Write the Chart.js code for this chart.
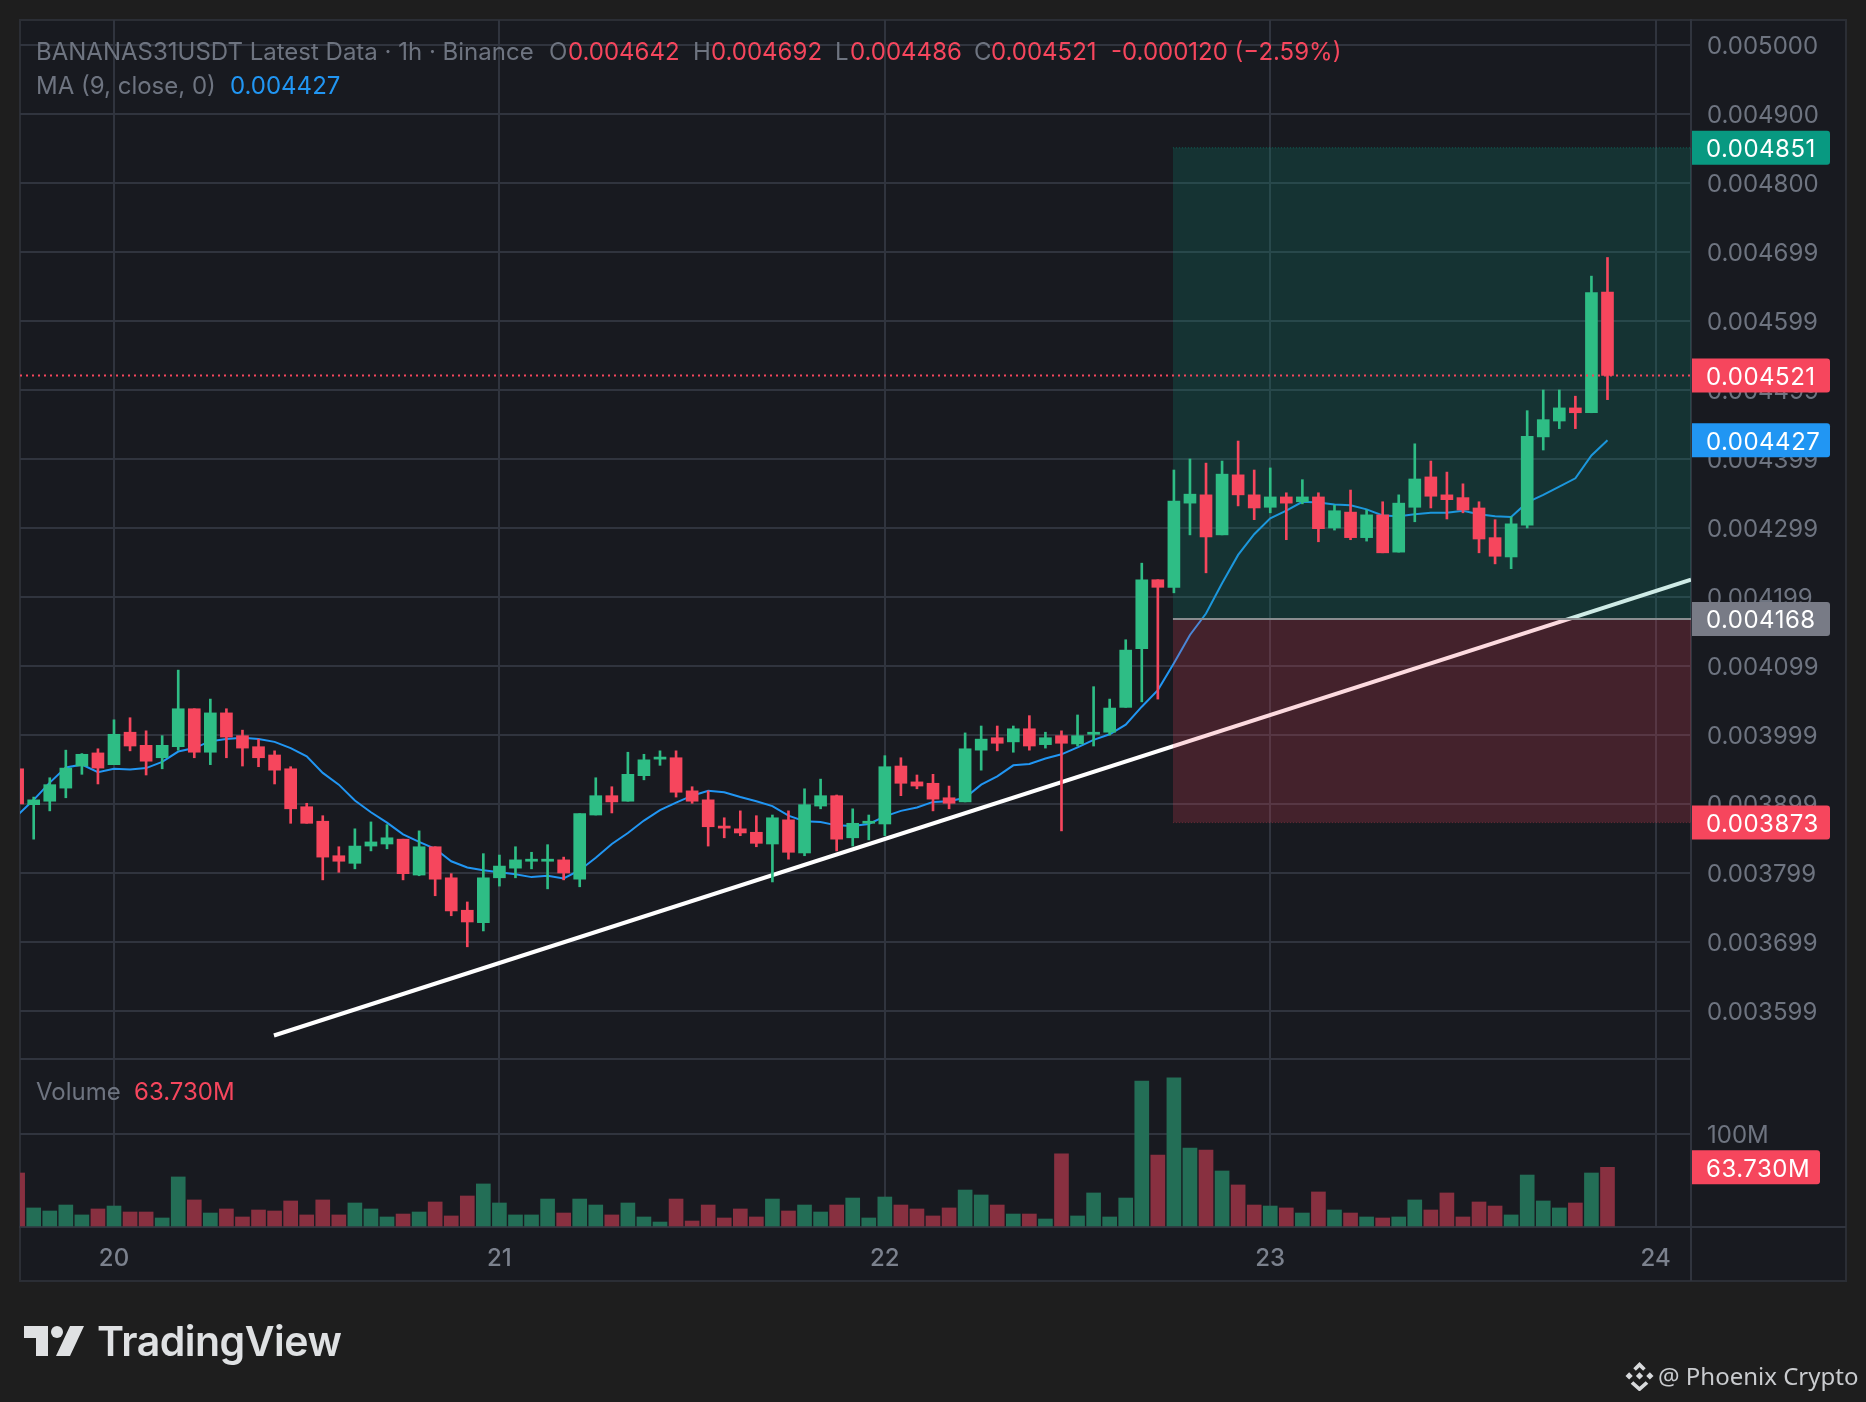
<!DOCTYPE html>
<html>
<head>
<meta charset="utf-8">
<title>BANANAS31USDT</title>
<script src="https://cdn.jsdelivr.net/npm/chart.js"></script>
<style>
  html, body { margin: 0; padding: 0; background: #1e1e1e; }
  body { position: relative; width: 1866px; height: 1402px; overflow: hidden; font-family: Inter, sans-serif; }
  #frame { position: absolute; left: 19px; top: 19px; width: 1828px; height: 1263px; box-sizing: border-box; background: #181a20; border: 2px solid #2b2e35; }
  #axisLine { position: absolute; left: 1690px; top: 1226px; width: 156px; height: 55px; box-sizing: border-box; border-top: 2px solid #30343e; border-left: 2px solid #30343e; }
  canvas { position: absolute; left: 0; top: 0; }
  .t { position: absolute; font-size: 24px; line-height: 30px; white-space: nowrap; color: #6e7480; }
  .red { color: #f6465d; }
  .blue { color: #2196f3; }
  #brand { position: absolute; left: 97px; top: 1316px; font-size: 41px; line-height: 50px; font-weight: 600; color: #dfe1e3; letter-spacing: -0.5px; }
  #author { position: absolute; left: 1658px; top: 1360px; font-family: "Noto Sans"; font-size: 24px; line-height: 32px; color: #c9cbce; white-space: nowrap; }
  svg { position: absolute; }
</style>
</head>
<body>
<div id="frame"></div>
<div id="axisLine"></div>
<canvas id="chart" width="1866" height="1402"></canvas>

<div class="t" style="left:36px;top:37px">BANANAS31USDT Latest Data · 1h · Binance</div>
<div class="t" style="left:549px;top:37px">O</div><div class="t red" style="left:568px;top:37px">0.004642</div>
<div class="t" style="left:693px;top:37px">H</div><div class="t red" style="left:711px;top:37px">0.004692</div>
<div class="t" style="left:835px;top:37px">L</div><div class="t red" style="left:850px;top:37px">0.004486</div>
<div class="t" style="left:974px;top:37px">C</div><div class="t red" style="left:991px;top:37px">0.004521</div>
<div class="t red" style="left:1111px;top:37px">-0.000120 (−2.59%)</div>
<div class="t" style="left:36px;top:71px">MA (9, close, 0)</div><div class="t blue" style="left:230px;top:71px">0.004427</div>
<div class="t" style="left:36px;top:1077px">Volume</div><div class="t red" style="left:134px;top:1077px">63.730M</div>

<svg style="left:24px;top:1326px" width="62" height="31" viewBox="0 0 62 31">
  <path d="M0 0H24V30H12V12H0Z" fill="#dfe1e3"/>
  <circle cx="33" cy="6" r="6" fill="#dfe1e3"/>
  <path d="M46 0H60L46 30H32Z" fill="#dfe1e3"/>
</svg>
<div id="brand">TradingView</div>

<svg style="left:1625px;top:1362px" width="29" height="29" viewBox="0 0 28 28" fill="#d8dadc">
  <path d="M14 0L20 6L17.5 8.5L14 5L10.500 8.5L8 6Z"/>
  <path d="M4 10L7.500 13.500L4 17L0.500 13.500Z"/>
  <path d="M24 10L27.500 13.500L24 17L20.500 13.500Z"/>
  <path d="M14 10L17.500 13.500L14 17L10.500 13.500Z"/>
  <path d="M8 18.500L14 24L20 18.500L22.500 21L14 28.500L5.500 21Z"/>
</svg>
<div id="author">@ Phoenix Crypto</div>

<script>
// hours since the start of day 20, one per candle
var hours = [-6,-5,-4,-3,-2,-1,0,1,2,3,4,5,6,7,8,9,10,11,12,13,14,15,16,17,18,19,20,21,22,23,
  24,25,26,27,28,29,30,31,32,33,34,35,36,37,38,39,40,41,42,43,44,45,46,47,
  48,49,50,51,52,53,54,55,56,57,58,59,60,61,62,63,64,65,66,67,68,69,70,71,
  72,73,74,75,76,77,78,79,80,81,82,83,84,85,86,87,88,89,90,91,92,93];

var opens = [0.003951,0.003899,0.003904,0.003923,0.003955,0.003974,
  0.003957,0.004004,0.003985,0.003967,0.003983,0.004038,0.003975,0.004032,0.003999,0.003983,0.003971,0.003951,0.003896,0.003875,0.003825,0.003814,0.003839,0.003842,
  0.003849,0.003797,0.003838,0.003793,0.003746,0.003728,
  0.003793,0.003807,0.003817,0.003817,0.003819,0.003791,0.003884,0.003912,0.003904,0.003941,0.003965,0.003967,0.003919,0.003906,0.003868,0.003864,0.003859,0.003842,0.003877,0.003829,0.003897,0.003912,0.003851,0.003872,
  0.003871,0.003955,0.003932,0.003930,0.003909,0.003903,0.003978,0.003996,0.003990,0.004009,0.003986,0.003999,0.003987,0.004001,0.004004,0.004040,0.004125,0.004225,0.004214,0.004336,0.004348,0.004290,0.004377,0.004348,
  0.004330,0.004345,0.004338,0.004345,0.004300,0.004323,0.004286,0.004319,0.004265,0.004330,0.004374,0.004348,0.004344,0.004329,0.004286,0.004258,0.004304,0.004432,0.004455,0.004474,0.004467,0.004642];

var highs = [0.003951,0.003910,0.003938,0.003978,0.003973,0.003980,
  0.004022,0.004025,0.004006,0.003999,0.004094,0.004038,0.004052,0.004038,0.004007,0.003994,0.003977,0.003954,0.003901,0.003883,0.003838,0.003864,0.003874,0.003870,
  0.003849,0.003861,0.003838,0.003799,0.003758,0.003828,
  0.003826,0.003838,0.003830,0.003841,0.003823,0.003886,0.003938,0.003925,0.003975,0.003972,0.003977,0.003977,0.003925,0.003919,0.003880,0.003890,0.003883,0.003884,0.003890,0.003922,0.003936,0.003913,0.003893,0.003884,
  0.003970,0.003967,0.003942,0.003943,0.003926,0.004003,0.004013,0.004013,0.004013,0.004028,0.004004,0.004006,0.004029,0.004070,0.004052,0.004138,0.004249,0.004225,0.004384,0.004400,0.004394,0.004397,0.004426,0.004384,
  0.004387,0.004351,0.004370,0.004351,0.004333,0.004355,0.004326,0.004338,0.004348,0.004422,0.004397,0.004381,0.004364,0.004338,0.004312,0.004316,0.004470,0.004500,0.004500,0.004491,0.004665,0.004692];

var lows = [0.003900,0.003849,0.003890,0.003909,0.003943,0.003929,
  0.003957,0.003977,0.003942,0.003951,0.003978,0.003967,0.003957,0.003967,0.003955,0.003954,0.003929,0.003872,0.003872,0.003790,0.003801,0.003806,0.003832,0.003835,
  0.003790,0.003796,0.003767,0.003738,0.003693,0.003716,
  0.003781,0.003793,0.003806,0.003777,0.003790,0.003780,0.003884,0.003887,0.003904,0.003935,0.003956,0.003910,0.003901,0.003839,0.003851,0.003854,0.003838,0.003787,0.003820,0.003825,0.003893,0.003832,0.003839,0.003848,
  0.003854,0.003912,0.003922,0.003890,0.003893,0.003903,0.003949,0.003977,0.003975,0.003978,0.003981,0.003861,0.003984,0.003984,0.004000,0.004040,0.004048,0.004052,0.004206,0.004290,0.004235,0.004290,0.004332,0.004312,
  0.004322,0.004283,0.004335,0.004280,0.004297,0.004283,0.004281,0.004264,0.004265,0.004309,0.004329,0.004313,0.004322,0.004264,0.004248,0.004241,0.004300,0.004413,0.004444,0.004444,0.004467,0.004486];

var closes = [0.003900,0.003906,0.003928,0.003952,0.003972,0.003952,
  0.004001,0.003984,0.003962,0.003985,0.004038,0.003975,0.004032,0.003997,0.003981,0.003967,0.003949,0.003893,0.003872,0.003823,0.003817,0.003839,0.003845,0.003851,
  0.003799,0.003838,0.003791,0.003745,0.003729,0.003793,
  0.003810,0.003819,0.003820,0.003820,0.003800,0.003886,0.003912,0.003903,0.003943,0.003964,0.003968,0.003917,0.003904,0.003867,0.003865,0.003858,0.003843,0.003880,0.003830,0.003899,0.003912,0.003849,0.003872,0.003875,
  0.003954,0.003930,0.003926,0.003907,0.003901,0.003980,0.003994,0.003988,0.004009,0.003984,0.003996,0.003988,0.003999,0.004004,0.004039,0.004123,0.004225,0.004214,0.004339,0.004349,0.004287,0.004378,0.004348,0.004329,
  0.004345,0.004336,0.004345,0.004299,0.004325,0.004286,0.004319,0.004264,0.004336,0.004371,0.004346,0.004341,0.004326,0.004284,0.004259,0.004306,0.004433,0.004457,0.004474,0.004467,0.004641,0.004521];

var movingAverage = [0.003884,0.003906,0.003931,0.003953,0.003957,0.003946,
  0.003951,0.003950,0.003952,0.003961,0.003976,0.003981,0.003991,0.003994,0.003996,0.003994,0.003990,0.003981,0.003969,0.003945,0.003928,0.003905,0.003888,0.003873,
  0.003856,0.003845,0.003835,0.003817,0.003808,0.003804,
  0.003801,0.003798,0.003794,0.003796,0.003792,0.003804,0.003822,0.003842,0.003858,0.003876,0.003891,0.003902,0.003912,0.003919,0.003917,0.003910,0.003904,0.003897,0.003883,0.003875,0.003874,0.003869,0.003868,0.003871,
  0.003882,0.003890,0.003895,0.003903,0.003904,0.003909,0.003928,0.003940,0.003956,0.003958,0.003966,0.003972,0.003982,0.003993,0.004001,0.004015,0.004041,0.004065,0.004104,0.004145,0.004176,0.004220,0.004261,0.004291,
  0.004314,0.004325,0.004338,0.004337,0.004334,0.004333,0.004327,0.004318,0.004317,0.004320,0.004322,0.004322,0.004325,0.004320,0.004317,0.004316,0.004337,0.004348,0.004360,0.004372,0.004405,0.004427];

// volume in millions
var volumes = [57.6,19.6,16.3,22.8,12,18.5,
  21.7,15.2,15.2,8.7,53.3,28.3,14.1,18.5,9.8,17.4,16.3,27.2,12,28.3,12,25,18.5,9.8,
  13,15.2,26.1,10.9,32.6,45.7,
  25,12,12,29.3,14.1,29.3,22.8,12,25,9.8,4.3,29.3,5.4,22.8,8.7,18.5,9.8,29.3,16.3,22.8,15.2,22.8,30.4,8.7,
  31.5,22.8,18.5,10.9,19.6,39.1,33.7,22.8,13,13,7.6,78.3,10.9,35.9,9.8,30.4,157.6,77.2,160.9,84.8,82.6,59.8,44.6,22.8,
  21.7,19.6,14.1,37,17.4,14.1,9.8,8.7,9.8,28.3,17.4,35.9,9.8,26.1,21.7,12,55.4,27.2,19.6,25,57.6,63.73];

var dayTicks = [0,24,48,72,96];
var dayLabels = ["20","21","22","23","24"];
var priceTicks = [0.005,0.0049,0.0048,0.0047,0.0046,0.0045,0.0044,0.0043,0.0042,0.0041,0.004,0.0039,0.0038,0.0037,0.0036];
var priceLabels = ["0.005000","0.004900","0.004800","0.004699","0.004599","0.004499","0.004399","0.004299","0.004199","0.004099","0.003999","0.003899","0.003799","0.003699","0.003599"];

var lastPrice = 0.004521;
var takeProfit = 0.004851;
var entryPrice = 0.004168;
var stopLoss = 0.003873;
var positionHours = [65.94, 98.2];
var trendHours = [9.96, 98.2];
var trendPrices = [0.0035645, 0.0042252];

var xMin = -5.853, xMax = 98.2;
var priceMin = 0.0035304, priceMax = 0.0050362;
var volumeMin = -1.1, volumeMax = 181.5;

var tagPrices = [takeProfit, lastPrice, 0.004427, entryPrice, stopLoss];
var tagTexts = ["0.004851","0.004521","0.004427","0.004168","0.003873"];
var tagColors = ["#089981","#f6465d","#2196f3","#787b86","#f6465d"];

var GRID = "#30343e", LABEL = "#6e7480", FONT = "Inter";
var UP = "#2ebd85", DOWN = "#f6465d", UP_VOL = "#236e56", DOWN_VOL = "#883040";

function points(xs, ys) {
  return xs.map(function (x, i) { return { x: x, y: ys[i] }; });
}
function flat(xs, y) {
  return xs.map(function (x) { return { x: x, y: y }; });
}
function ranges(a, b) {
  return hours.map(function (h, i) { return { x: h, y: [a[i], b[i]] }; });
}
var candleColors = hours.map(function (h, i) { return closes[i] >= opens[i] ? UP : DOWN; });
var volumeColors = hours.map(function (h, i) { return closes[i] >= opens[i] ? UP_VOL : DOWN_VOL; });

// the coloured value tags on the price and volume axes
var axisTags = {
  id: "axisTags",
  afterDraw: function (chart) {
    var ctx = chart.ctx, left = chart.chartArea.right + 1, y = chart.scales.y, vol = chart.scales.volume;
    function tag(text, color, py, w) {
      ctx.fillStyle = color;
      ctx.beginPath();
      ctx.roundRect(left, py - 17, w, 34, [0, 3, 3, 0]);
      ctx.fill();
      ctx.font = "24px " + FONT;
      ctx.letterSpacing = "0.5px";
      ctx.fillStyle = "#ffffff";
      ctx.textAlign = "left";
      ctx.textBaseline = "middle";
      ctx.fillText(text, left + 14, py + 2);
    }
    ctx.save();
    tagPrices.forEach(function (p, i) { tag(tagTexts[i], tagColors[i], y.getPixelForValue(p), 138); });
    tag("63.730M", DOWN, vol.getPixelForValue(volumes[volumes.length - 1]), 128);
    ctx.restore();
  }
};

// labels must not push the panes away from the frame
function fitYAxis(s) {
  s.width = 155;
  s.paddingTop = 0;
  s.paddingBottom = 0;
}

var ctx = document.getElementById("chart");
var chart = new Chart(ctx, {
  data: {
    datasets: [
      { type: "line", order: 0, data: flat([xMin, xMax], lastPrice), borderColor: DOWN, borderWidth: 2, borderDash: [2, 4], pointRadius: 0 },
      { type: "bar", order: 1, grouped: false, data: ranges(opens, closes), backgroundColor: candleColors, barThickness: 12 },
      { type: "bar", order: 2, grouped: false, data: ranges(lows, highs), backgroundColor: candleColors, barThickness: 2 },
      { type: "line", order: 3, data: flat(positionHours, entryPrice), borderColor: "#8a8d90", borderWidth: 2, pointRadius: 0 },
      { type: "line", order: 3, data: flat(positionHours, takeProfit), fill: { value: entryPrice }, backgroundColor: "rgba(8,153,129,0.2)", borderColor: "rgba(8,153,129,0.5)", borderWidth: 1, borderDash: [1, 2], pointRadius: 0 },
      { type: "line", order: 3, data: flat(positionHours, stopLoss), fill: { value: entryPrice }, backgroundColor: "rgba(246,70,93,0.2)", borderColor: "rgba(246,70,93,0.3)", borderWidth: 1, borderDash: [1, 2], pointRadius: 0 },
      { type: "line", order: 4, data: points(trendHours, trendPrices), borderColor: "#ffffff", borderWidth: 4, pointRadius: 0 },
      { type: "line", order: 5, data: points(hours, movingAverage), borderColor: "#2196f3", borderWidth: 2, pointRadius: 0, tension: 0 },
      { type: "bar", order: 6, grouped: false, yAxisID: "volume", data: points(hours, volumes), backgroundColor: volumeColors, barThickness: 14 }
    ]
  },
  plugins: [axisTags],
  options: {
    responsive: false,
    devicePixelRatio: 1,
    animation: false,
    layout: { padding: { left: 20, top: 20, right: 20, bottom: 121 } },
    plugins: { legend: { display: false }, tooltip: { enabled: false } },
    scales: {
      x: {
        type: "linear",
        offset: false,
        min: xMin,
        max: xMax,
        afterFit: function (s) { s.height = 54; s.paddingLeft = 0; s.paddingRight = 0; },
        afterBuildTicks: function (s) { s.ticks = dayTicks.map(function (v) { return { value: v }; }); },
        grid: { offset: false, color: GRID, lineWidth: 2, drawTicks: false },
        border: { color: GRID, width: 2 },
        ticks: {
          autoSkip: false,
          maxRotation: 0,
          padding: 17,
          color: "#7b818d",
          font: { family: FONT, size: 24, weight: "500" },
          callback: function (v) { return dayLabels[dayTicks.indexOf(v)]; }
        }
      },
      y: {
        type: "linear",
        position: "right",
        stack: "panes",
        stackWeight: 1039,
        min: priceMin,
        max: priceMax,
        afterFit: fitYAxis,
        afterBuildTicks: function (s) { s.ticks = priceTicks.map(function (v) { return { value: v }; }); },
        grid: { color: GRID, lineWidth: 2, drawTicks: false },
        border: { color: GRID, width: 2 },
        ticks: {
          autoSkip: false,
          padding: 16,
          labelOffset: 2,
          color: LABEL,
          font: { family: FONT, size: 24 },
          callback: function (v) { return priceLabels[priceTicks.indexOf(v)]; }
        }
      },
      volume: {
        type: "linear",
        position: "right",
        stack: "panes",
        stackWeight: 168,
        min: volumeMin,
        max: volumeMax,
        afterFit: fitYAxis,
        afterBuildTicks: function (s) { s.ticks = [{ value: 100 }, { value: volumeMax }]; },
        grid: { color: GRID, lineWidth: 2, drawTicks: false },
        border: { color: GRID, width: 2 },
        ticks: {
          autoSkip: false,
          padding: 16,
          labelOffset: 2,
          color: LABEL,
          font: { family: FONT, size: 24 },
          callback: function (v) { return v === 100 ? "100M" : ""; }
        }
      }
    }
  }
});
</script>
</body>
</html>
